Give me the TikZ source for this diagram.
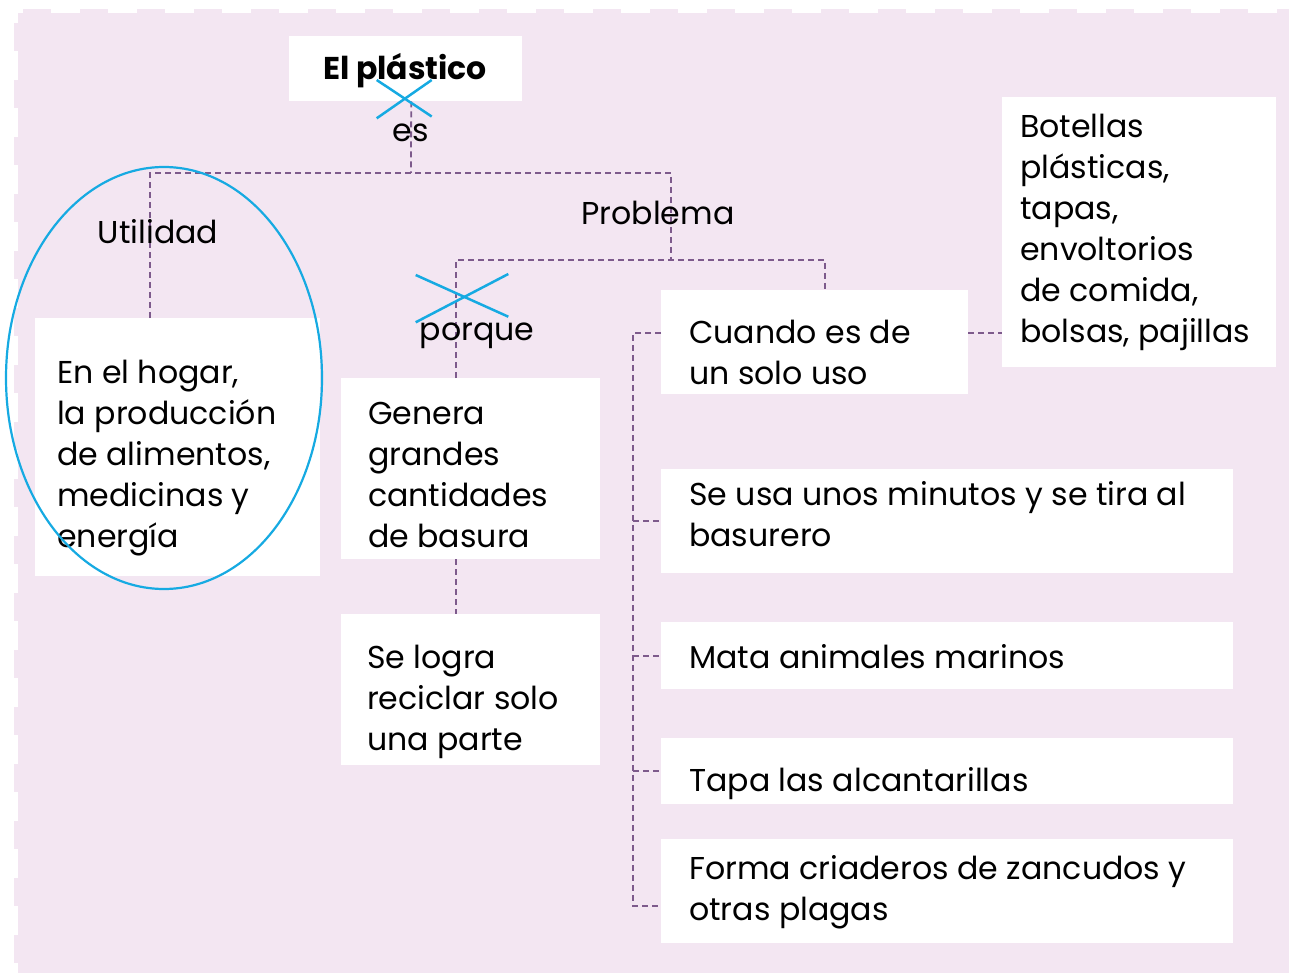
\documentclass[tikz,border=0pt]{standalone}
\usepackage{fontspec}
\setmainfont{Poppins}
\definecolor{bg}{RGB}{243,230,242}
\definecolor{conncol}{RGB}{125,90,140}
\definecolor{xblue}{RGB}{22,170,226}
\newcommand\Lline[1]{\hbox{#1}}
\tikzset{
  wbox/.style={fill=white, draw=none, inner sep=0pt, anchor=north west},
  conn/.style={draw=conncol, line width=1.8pt, dash pattern=on 6pt off 4pt},
  bodytext/.style={inner sep=0pt, anchor=base west, font=\fontsize{31.6}{41}\selectfont},
  lbl/.style={inner sep=0pt, anchor=base, font=\fontsize{31.6}{41}\selectfont},
  xmark/.style={draw=xblue, line width=2.5pt},
}
\begin{document}
\begin{tikzpicture}[x=1pt,y=-1pt]
\useasboundingbox (0,0) rectangle (1289,973);
% background
\fill[bg] (18,13) rectangle (1289,973);
\draw[bg, line width=4pt, dash pattern=on 28pt off 29pt] (16,23) -- (16,973);
\draw[bg, line width=4pt, dash pattern=on 28pt off 29pt] (23,11) -- (1289,11);

% boxes
\node[wbox, minimum width=233pt, minimum height=65pt] (title) at (289,36) {};
\node[wbox, minimum width=285pt, minimum height=258pt] (util) at (35,318) {};
\node[wbox, minimum width=259pt, minimum height=181pt] (gen) at (341,378) {};
\node[wbox, minimum width=259pt, minimum height=151pt] (logra) at (341,614) {};
\node[wbox, minimum width=307pt, minimum height=104pt] (cuando) at (661,290) {};
\node[wbox, minimum width=274pt, minimum height=270pt] (botellas) at (1002,97) {};
\node[wbox, minimum width=572pt, minimum height=104pt] (seusa) at (661,469) {};
\node[wbox, minimum width=572pt, minimum height=67pt] (mata) at (661,622) {};
\node[wbox, minimum width=572pt, minimum height=66pt] (tapa) at (661,738) {};
\node[wbox, minimum width=572pt, minimum height=104pt] (forma) at (661,839) {};

% junction coordinates
\coordinate (jtop) at (411,173);
\coordinate (jL) at (150,173);
\coordinate (jR) at (671,173);
\coordinate (jR2) at (671,260);
\coordinate (jP) at (456,260);
\coordinate (jC) at (825,260);
\coordinate (bx) at (633,0);
\coordinate (cw) at ([yshift=9pt]cuando.west);
\coordinate (ce) at ([yshift=9pt]cuando.east);
\coordinate (fw) at ([yshift=-15pt]forma.west);

% connectors
\draw[conn] ([xshift=5.5pt]title.south) -- (jtop);
\draw[conn] (util.north -| jL) -- (jL) -- (jR) -- (jR2);
\draw[conn] (gen.north -| jP) -- (jP) -- (jC) -- (cuando.north -| jC);
\draw[conn] (gen.south -| jP) -- (logra.north -| jP);
\draw[conn] (ce) -- (botellas.west |- ce);
\draw[conn] (cw) -- (bx |- cw) -- (bx |- fw) -- (fw);
\draw[conn] (bx |- seusa.west) -- (seusa.west);
\draw[conn] (bx |- mata.west) -- (mata.west);
\draw[conn] (bx |- tapa.west) -- (tapa.west);

% labels
\node[lbl, font=\fontsize{31.5}{36}\selectfont\bfseries] (titlet) at (405,80) {El plástico};
\node[lbl] (es) at (411,142) {es};
\node[lbl] (utill) at (158,244) {Utilidad};
\node[lbl] (probl) at (658,225) {Problema};
\node[lbl] (porque) at (477,340) {porque};

% box texts
\node[bodytext] (util-t) at (57,383) {\vtop{\Lline{En el hogar,}\Lline{la producción}\Lline{de alimentos,}\Lline{medicinas y}\Lline{energía}}};
\node[bodytext] (gen-t) at (368,424) {\vtop{\Lline{Genera}\Lline{grandes}\Lline{cantidades}\Lline{de basura}}};
\node[bodytext] (logra-t) at (367,668) {\vtop{\Lline{Se logra}\Lline{reciclar solo}\Lline{una parte}}};
\node[bodytext] (cuando-t) at (689,343) {\vtop{\Lline{Cuando es de}\Lline{un solo uso}}};
\node[bodytext] (bot-t) at (1020,138) {\vtop{\Lline{Botellas}\Lline{plásticas,}\Lline{tapas,}\Lline{envoltorios}\Lline{de comida,}\Lline{bolsas, pajillas}}};
\node[bodytext] (seusa-t) at (689,505) {\vtop{\Lline{Se usa unos minutos y se tira al}\Lline{basurero}}};
\node[bodytext] (mata-t) at (689,668) {Mata animales marinos};
\node[bodytext] (tapa-t) at (689,791) {Tapa las alcantarillas};
\node[bodytext] (forma-t) at (689,879) {\vtop{\Lline{Forma criaderos de zancudos y}\Lline{otras plagas}}};

% blue marks
\draw[xblue, line width=2.2pt] (164,378) ellipse [x radius=158pt, y radius=211pt];
\draw[xmark] (376.7,80) -- (431.7,116.5);
\draw[xmark] (431.7,80) -- (376.7,118.3);
\draw[xmark] (415.7,275) -- (508.3,316.7);
\draw[xmark] (415.7,322.3) -- (508.3,274);
\end{tikzpicture}
\end{document}
